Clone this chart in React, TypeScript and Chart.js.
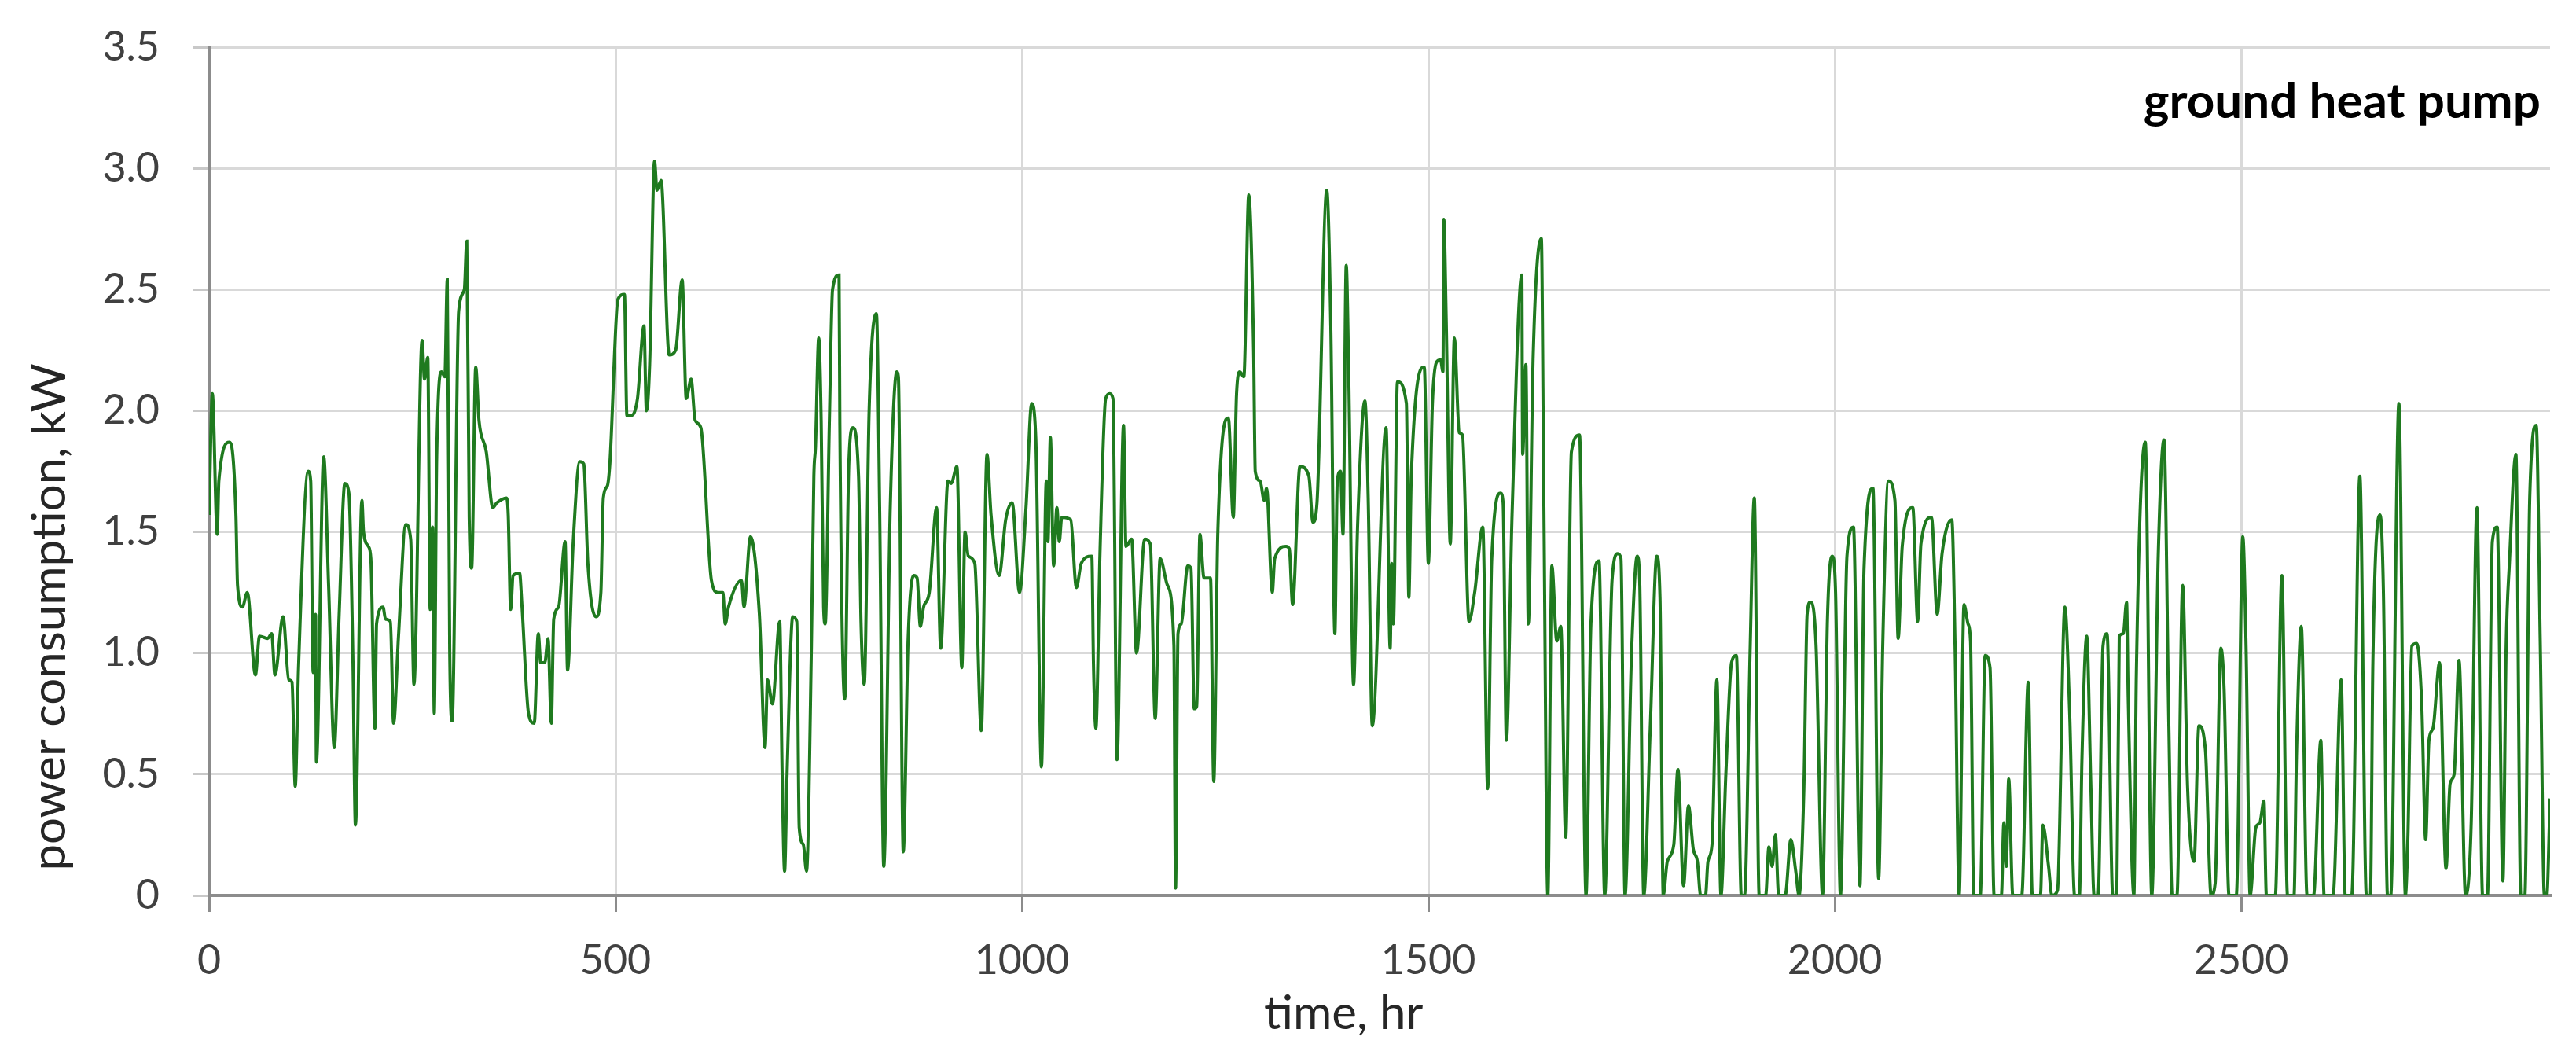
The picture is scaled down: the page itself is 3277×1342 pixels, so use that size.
import React, { useEffect, useRef } from 'react';
import { Chart, registerables } from 'chart.js';

Chart.register(...registerables);

// ---- data (hour, kW) ----
const HOURS_A = [
  0, 4, 10, 12, 25, 28, 33, 35, 41, 47,
  57, 62, 72, 77, 81, 91, 98, 102, 106, 110,
  122, 125, 128, 131, 132, 141, 147, 154, 160, 167,
  172, 177, 180, 188, 190, 196, 199, 204, 206, 214,
  217, 223, 227, 233, 242, 248, 252, 262, 265, 269,
  272, 275, 277, 280, 286, 290, 293, 296, 299, 307,
  314, 317, 320, 323, 328, 332, 341, 349,
];
const POWER_A = [
  1.57, 2.07, 1.49, 1.71, 1.87, 1.85, 1.57, 1.28, 1.19, 1.25,
  0.91, 1.07, 1.06, 1.08, 0.91, 1.15, 0.89, 0.88, 0.45, 0.94,
  1.75, 1.71, 0.92, 1.16, 0.55, 1.81, 1.28, 0.61, 1.16, 1.70,
  1.66, 0.96, 0.29, 1.63, 1.50, 1.44, 1.39, 0.69, 1.12, 1.19,
  1.14, 1.13, 0.71, 1.07, 1.53, 1.47, 0.87, 2.29, 2.13, 2.22,
  1.18, 1.52, 0.75, 1.81, 2.16, 2.14, 2.54, 1.02, 0.72, 2.41,
  2.50, 2.70, 1.56, 1.35, 2.18, 1.96, 1.83, 1.60,
];

const HOURS_B = [
  354, 366, 368, 371, 374, 382, 385, 393, 400, 405,
  408, 413, 417, 421, 424, 430, 438, 441, 448, 456,
  461, 466, 476, 482, 485, 490, 493, 503, 511, 514,
  519, 527, 535, 538, 542, 548, 551, 556, 566, 574,
  582, 587, 593, 598, 605, 618, 626, 632, 635, 639,
  655, 658, 666, 677, 684, 687, 693, 702, 705, 708,
  711, 718, 723,
];
const POWER_B = [
  1.62, 1.64, 1.57, 1.18, 1.32, 1.33, 1.19, 0.75, 0.71, 1.08,
  0.96, 0.96, 1.06, 0.71, 1.14, 1.19, 1.46, 0.93, 1.46, 1.79,
  1.78, 1.37, 1.15, 1.25, 1.64, 1.69, 1.78, 2.46, 2.48, 1.98,
  1.98, 2.05, 2.35, 2.00, 2.19, 3.03, 2.91, 2.95, 2.23, 2.25,
  2.54, 2.05, 2.13, 1.96, 1.93, 1.30, 1.25, 1.25, 1.12, 1.19,
  1.30, 1.19, 1.48, 1.16, 0.61, 0.89, 0.79, 1.13, 0.50, 0.10,
  0.50, 1.15, 1.13,
];

const HOURS_C = [
  726, 731, 735, 741, 744, 746, 750, 753, 756, 758,
  763, 767, 775, 776, 782, 787, 792, 799, 802, 806,
  812, 821, 825, 830, 838, 846, 848, 854, 860, 867,
  871, 875, 879, 886, 895, 900, 909, 913, 920, 926,
  930, 934, 942, 950, 957, 962, 972, 980, 988, 997,
  1005, 1012, 1017, 1024, 1030, 1032, 1035, 1039, 1043, 1046,
  1049, 1060, 1067, 1073,
];
const POWER_C = [
  0.28, 0.21, 0.10, 1.03, 1.73, 1.85, 2.30, 1.96, 1.19, 1.12,
  1.94, 2.50, 2.56, 1.94, 0.81, 1.78, 1.93, 1.73, 1.13, 0.87,
  2.00, 2.40, 1.58, 0.12, 1.60, 2.16, 2.14, 0.18, 1.06, 1.32,
  1.31, 1.11, 1.19, 1.25, 1.60, 1.02, 1.71, 1.70, 1.77, 0.94,
  1.50, 1.40, 1.37, 0.68, 1.82, 1.57, 1.32, 1.55, 1.62, 1.25,
  1.60, 2.03, 1.89, 0.53, 1.71, 1.46, 1.89, 1.36, 1.60, 1.46,
  1.56, 1.55, 1.27, 1.37,
];

const HOURS_D = [
  1086, 1088, 1091, 1096, 1103, 1108, 1112, 1117, 1125, 1128,
  1135, 1141, 1151, 1158, 1164, 1170, 1179, 1187, 1189, 1192,
  1196, 1204, 1208, 1212, 1215, 1219, 1224, 1232, 1236, 1241,
  1254, 1260, 1264, 1268, 1273, 1279, 1285, 1287, 1293, 1298,
  1301, 1308, 1311, 1325, 1329, 1333, 1342, 1353, 1358, 1363,
  1375, 1380, 1385, 1388, 1392, 1395, 1399, 1402, 1408, 1413,
  1422, 1426, 1431,
];
const POWER_D = [
  1.40, 0.96, 0.69, 1.41, 2.05, 2.07, 2.05, 0.56, 1.94, 1.44,
  1.47, 1.00, 1.47, 1.45, 0.73, 1.39, 1.28, 1.03, 0.03, 1.08,
  1.12, 1.36, 1.35, 0.77, 0.78, 1.49, 1.31, 1.31, 0.47, 1.50,
  1.97, 1.56, 2.07, 2.16, 2.14, 2.89, 2.25, 1.75, 1.71, 1.63,
  1.68, 1.25, 1.39, 1.44, 1.43, 1.20, 1.77, 1.73, 1.54, 1.62,
  2.91, 2.35, 1.08, 1.71, 1.75, 1.49, 2.60, 2.16, 0.87, 1.53,
  2.04, 1.64, 0.70,
];

const HOURS_E = [
  1448, 1453, 1455, 1457, 1462, 1473, 1476, 1479, 1495, 1500,
  1505, 1510, 1515, 1518, 1519, 1522, 1527, 1532, 1538, 1542,
  1550, 1557, 1567, 1573, 1578, 1589, 1592, 1596, 1603, 1615,
  1616, 1620, 1623, 1629, 1639, 1642, 1647, 1652, 1658, 1663,
  1669, 1676, 1686, 1694, 1700, 1710, 1717, 1726, 1733, 1737,
  1742, 1750, 1757, 1760, 1765, 1773, 1781, 1785, 1789, 1794,
];
const POWER_E = [
  1.93, 1.02, 1.37, 1.12, 2.12, 2.03, 1.23, 1.73, 2.18, 1.37,
  2.03, 2.20, 2.21, 2.16, 2.79, 2.37, 1.45, 2.30, 1.91, 1.90,
  1.13, 1.25, 1.52, 0.44, 1.39, 1.66, 1.62, 0.64, 1.57, 2.56,
  1.82, 2.19, 1.12, 2.23, 2.71, 1.66, 0, 1.36, 1.05, 1.11,
  0.24, 1.83, 1.90, 0, 1.12, 1.38, 0, 1.30, 1.41, 1.39,
  0, 1.00, 1.40, 1.30, 0, 0.69, 1.40, 1.23, 0, 0.14,
];

const HOURS_F = [
  1802, 1807, 1814, 1820, 1826, 1831, 1835, 1841, 1844, 1849,
  1855, 1860, 1866, 1873, 1879, 1885, 1889, 1896, 1901, 1907,
  1915, 1919, 1923, 1927, 1931, 1939, 1946, 1952, 1956, 1962,
  1966, 1970, 1977, 1985, 1991, 1997, 2001, 2007, 2015, 2023,
  2031, 2036, 2047, 2054, 2059, 2066, 2074, 2078, 2083, 2096,
  2102, 2106, 2119, 2126, 2132, 2144, 2148, 2153, 2159, 2164,
];
const POWER_F = [
  0.21, 0.52, 0.04, 0.37, 0.19, 0.14, 0, 0, 0.14, 0.21,
  0.89, 0, 0.50, 0.96, 0.99, 0, 0, 1.03, 1.64, 0,
  0, 0.20, 0.12, 0.25, 0, 0, 0.23, 0.10, 0, 0.44,
  1.16, 1.21, 1.03, 0, 1.14, 1.40, 1.25, 0, 1.40, 1.52,
  0.04, 1.35, 1.68, 0.07, 1.03, 1.71, 1.63, 1.06, 1.44, 1.60,
  1.13, 1.45, 1.56, 1.16, 1.41, 1.55, 1.03, 0, 1.20, 1.12,
];

const HOURS_G = [
  2167, 2171, 2179, 2185, 2191, 2196, 2205, 2208, 2211, 2214,
  2219, 2230, 2238, 2243, 2253, 2256, 2263, 2267, 2274, 2283,
  2289, 2295, 2301, 2304, 2310, 2315, 2319, 2324, 2330, 2335,
  2342, 2347, 2350, 2355, 2359, 2361, 2368, 2371, 2382, 2390,
  2398, 2405, 2411, 2415, 2421, 2428, 2434, 2442, 2448, 2456,
  2463, 2468, 2475, 2479, 2485, 2494, 2502, 2506, 2511, 2518,
];
const POWER_G = [
  1.05, 0, 0, 0.99, 0.94, 0, 0, 0.30, 0.12, 0.48,
  0, 0, 0.88, 0, 0, 0.29, 0.12, 0, 0.02, 1.19,
  0.75, 0, 0, 0.55, 1.07, 0.46, 0, 0, 1.03, 1.08,
  0, 0, 1.07, 1.08, 1.21, 0.82, 0, 0.91, 1.87, 0,
  1.41, 1.88, 0.70, 0, 0, 1.28, 0.45, 0.14, 0.70, 0.60,
  0, 0.05, 1.02, 0.85, 0, 0, 1.48, 1.03, 0, 0.28,
];

const HOURS_H = [
  2523, 2528, 2531, 2542, 2550, 2557, 2565, 2568, 2574, 2581,
  2589, 2598, 2602, 2613, 2623, 2628, 2636, 2646, 2654, 2659,
  2662, 2671, 2675, 2680, 2684, 2694, 2702, 2705, 2710, 2716,
  2722, 2727, 2731, 2736, 2744, 2752, 2757, 2762, 2768, 2776,
  2783, 2790, 2797, 2803, 2809, 2815, 2822, 2826, 2830, 2838,
  2844, 2849, 2855, 2863, 2868, 2873, 2876, 2880,
];
const POWER_H = [
  0.30, 0.39, 0, 0, 1.32, 0, 0, 0.57, 1.11, 0,
  0, 0.64, 0, 0, 0.89, 0, 0, 1.73, 0, 0,
  0.96, 1.57, 1.25, 0, 0, 2.03, 0, 0.23, 1.03, 1.04,
  0.80, 0.23, 0.64, 0.69, 0.96, 0.11, 0.46, 0.50, 0.97, 0,
  0.30, 1.60, 0, 0, 1.46, 1.52, 0.06, 1.03, 1.37, 1.82,
  0, 0, 1.64, 1.94, 1.03, 0, 0, 0.40,
];

const X_TICKS = [0, 500, 1000, 1500, 2000, 2500];
const Y_TICKS = [0, 0.5, 1.0, 1.5, 2.0, 2.5, 3.0, 3.5];
const X_MAX = 2880;
const Y_MAX = 3.5;

const CHART_TITLE = 'ground heat pump';
const X_TITLE = 'time, hr';
const Y_TITLE = 'power consumption, kW';

const LINE_COLOR = '#1f7a1f';
const GRID_COLOR = '#d9d9d9';
const AXIS_COLOR = '#8c8c8c';
const FONT = 'Lato';

const textPlugin = {
  id: 'figureTexts',
  afterDraw(chart: any) {
    const { ctx, chartArea } = chart;
    ctx.save();
    // chart label, top-right inside plot
    ctx.fillStyle = '#000000';
    ctx.font = `bold 62px ${FONT}`;
    ctx.textAlign = 'right';
    ctx.textBaseline = 'alphabetic';
    ctx.fillText(CHART_TITLE, chartArea.right - 12, chartArea.top + 90);
    // x axis title
    ctx.fillStyle = '#262626';
    ctx.font = `60px ${FONT}`;
    ctx.textAlign = 'center';
    ctx.textBaseline = 'middle';
    ctx.fillText(X_TITLE, chartArea.left + (chartArea.right - chartArea.left) * 0.4846, chartArea.bottom + 151);
    // y axis title
    ctx.translate(64, chartArea.bottom - 354);
    ctx.rotate(-Math.PI / 2);
    ctx.fillText(Y_TITLE, 0, 0);
    ctx.restore();
  },
};

export default function App() {
  const ref = useRef<HTMLCanvasElement>(null);

  useEffect(() => {
    document.body.style.margin = '0';
    const hours = [
      ...HOURS_A, ...HOURS_B, ...HOURS_C, ...HOURS_D,
      ...HOURS_E, ...HOURS_F, ...HOURS_G, ...HOURS_H,
    ];
    const power = [
      ...POWER_A, ...POWER_B, ...POWER_C, ...POWER_D,
      ...POWER_E, ...POWER_F, ...POWER_G, ...POWER_H,
    ];
    const n = Math.min(hours.length, power.length);
    const points = [];
    for (let i = 0; i < n; i++) points.push({ x: hours[i], y: power[i] });

    const chart = new Chart(ref.current as HTMLCanvasElement, {
      type: 'line',
      data: {
        datasets: [
          {
            data: points,
            borderColor: LINE_COLOR,
            borderWidth: 4,
            pointRadius: 0,
            fill: false,
            cubicInterpolationMode: 'monotone',
          } as any,
        ],
      },
      options: {
        animation: false,
        responsive: false,
        devicePixelRatio: 1,
        layout: { padding: { top: 60, right: 33, left: 0, bottom: 0 } },
        plugins: {
          legend: { display: false },
          tooltip: { enabled: false },
        },
        scales: {
          x: {
            type: 'linear',
            min: 0,
            max: X_MAX,
            afterBuildTicks: (s: any) => {
              s.ticks = X_TICKS.map((v) => ({ value: v }));
            },
            afterFit: (s: any) => {
              s.height = 203;
              s.paddingLeft = 0;
              s.paddingRight = 0;
            },
            grid: {
              color: GRID_COLOR,
              lineWidth: 3,
              tickLength: 21,
              tickColor: AXIS_COLOR,
              tickWidth: 3,
            },
            border: { color: AXIS_COLOR, width: 4 },
            ticks: {
              padding: 31,
              color: '#404040',
              font: { family: FONT, size: 52 },
              maxRotation: 0,
              callback: (v: any) => String(v),
            },
          },
          y: {
            type: 'linear',
            min: 0,
            max: Y_MAX,
            afterBuildTicks: (s: any) => {
              s.ticks = Y_TICKS.map((v) => ({ value: v }));
            },
            afterFit: (s: any) => {
              s.width = 266;
              s.paddingTop = 0;
              s.paddingBottom = 0;
            },
            grid: {
              color: GRID_COLOR,
              lineWidth: 3,
              tickLength: 21,
              tickColor: '#c8c8c8',
              tickWidth: 3,
            },
            border: { color: AXIS_COLOR, width: 4 },
            ticks: {
              padding: 42,
              color: '#404040',
              font: { family: FONT, size: 52 },
              callback: (v: any) => (Number(v) === 0 ? '0' : Number(v).toFixed(1)),
            },
          },
        },
      },
      plugins: [textPlugin],
    });
    return () => chart.destroy();
  }, []);

  return (
    <canvas
      ref={ref}
      width={3277}
      height={1342}
      style={{ display: 'block', width: '3277px', height: '1342px' }}
    />
  );
}
